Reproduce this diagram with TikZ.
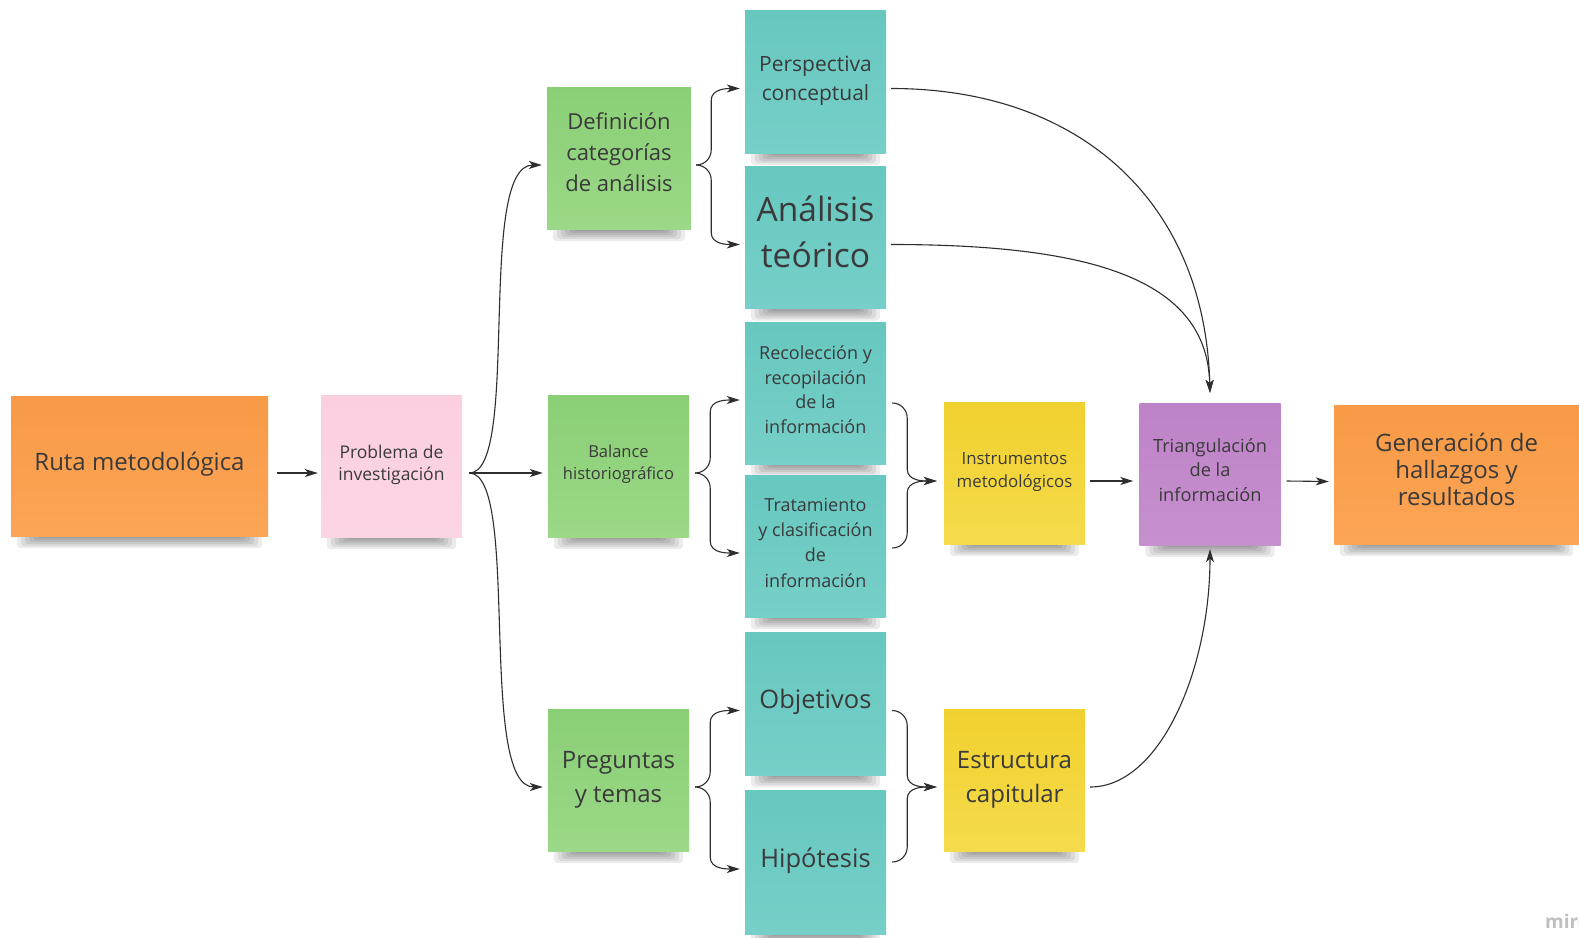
\documentclass[tikz,border=0pt]{standalone}
\usepackage{fontspec}
\setmainfont{Open Sans}
\usetikzlibrary{arrows.meta,calc}
\pgfdeclarelayer{bg}\pgfsetlayers{bg,main}
\definecolor{orngT}{HTML}{F89A46}
\definecolor{orngB}{HTML}{FBA556}
\definecolor{pinkT}{HTML}{FBCFE0}
\definecolor{pinkB}{HTML}{FCD5E4}
\definecolor{grnT}{HTML}{8ACF76}
\definecolor{grnB}{HTML}{9BD887}
\definecolor{tealT}{HTML}{67C8C0}
\definecolor{tealB}{HTML}{76CFC8}
\definecolor{yelT}{HTML}{F1D12E}
\definecolor{yelB}{HTML}{F5DB4C}
\definecolor{purT}{HTML}{BE82C8}
\definecolor{purB}{HTML}{C690CE}
\definecolor{txt}{HTML}{3A3A3A}
\definecolor{lin}{HTML}{2E2E2E}
\newcommand\myfs[2]{\fontsize{#1}{#2}\selectfont}
\newcommand\lift[2]{\raisebox{#1}[\height][\depth]{\begin{tabular}{@{}c@{}}#2\end{tabular}}}
% brace-like connectors: start, end, horizontal run before turning
\newcommand\braceup[3]{\draw[conn] let \p1=(#1), \p2=(#2) in (\p1) to[out=0,in=-90] ({\x1+#3},{\y1+#3}) -- ({\x1+#3},{\y2-12pt}) to[out=90,in=180] (\p2);}
\newcommand\bracedown[3]{\draw[conn] let \p1=(#1), \p2=(#2) in (\p1) to[out=0,in=90] ({\x1+#3},{\y1-#3}) -- ({\x1+#3},{\y2+12pt}) to[out=-90,in=180] (\p2);}
\begin{document}
\begin{tikzpicture}[x=1pt,y=-1pt,
  note/.style={rectangle, inner sep=0pt, align=center, text=txt,
    minimum width=141pt, minimum height=142pt},
  orangenote/.style={note, top color=orngT, bottom color=orngB},
  pinknote/.style={note, top color=pinkT, bottom color=pinkB},
  greennote/.style={note, top color=grnT, bottom color=grnB},
  tealnote/.style={note, top color=tealT, bottom color=tealB},
  yellownote/.style={note, top color=yelT, bottom color=yelB},
  purplenote/.style={note, top color=purT, bottom color=purB},
  shadowpiece/.style={fill=black, opacity=0.075, rounded corners=4pt},
  conn/.style={draw=lin, line width=1.1pt, -{Stealth[length=13pt,width=8pt,inset=3.5pt]}}]
\useasboundingbox (0,0) rectangle (1579,937);

% nodes
\node[orangenote, minimum width=257pt, minimum height=140pt, font=\myfs{24}{30}] (ruta) at (139.5,466) {\lift{2pt}{Ruta metodológica}};
\node[pinknote, font=\myfs{17.5}{22.2}] (prob) at (391.5,466) {\lift{1pt}{Problema de\\investigación}};
\node[greennote, minimum width=144pt, font=\myfs{22}{31.2}] (def) at (619,158) {\lift{3.5pt}{Definición\\categorías\\de análisis}};
\node[greennote, font=\myfs{16.5}{22.2}] (bal) at (618.5,466) {\lift{2pt}{Balance\\historiográfico}};
\node[greennote, font=\myfs{24}{34}] (preg) at (618.5,780) {\lift{1.5pt}{Preguntas\\y temas}};
\node[tealnote, minimum height=143pt, font=\myfs{21}{29.2}] (persp) at (815.5,81.5) {\lift{1pt}{Perspectiva\\conceptual}};
\node[tealnote, font=\myfs{33.5}{46.3}] (anal) at (815.5,237.5) {\lift{2pt}{Análisis\\teórico}};
\node[tealnote, font=\myfs{18}{24.9}] (rec) at (815.5,393) {\lift{1.5pt}{Recolección y\\recopilación\\de la\\información}};
\node[tealnote, font=\myfs{18}{25.3}] (trat) at (815.5,546) {\lift{2pt}{Tratamiento\\y clasificación\\de\\información}};
\node[tealnote, minimum height=143pt, font=\myfs{25.5}{30}] (obj) at (815.5,703.5) {\lift{1pt}{Objetivos}};
\node[tealnote, minimum height=144pt, font=\myfs{25.5}{30}] (hip) at (815.5,862) {\lift{1pt}{Hipótesis}};
\node[yellownote, font=\myfs{16.8}{22.2}] (inst) at (1014.5,473) {\lift{1.5pt}{Instrumentos\\metodológicos}};
\node[yellownote, font=\myfs{24}{34}] (estr) at (1014.5,780) {\lift{1.5pt}{Estructura\\capitular}};
\node[purplenote, font=\myfs{18.2}{24.8}] (tri) at (1210,474) {\lift{2pt}{Triangulación\\de la\\información}};
\node[orangenote, minimum width=245pt, minimum height=139pt, font=\myfs{24}{27.2}] (gen) at (1456.5,474.5) {\lift{1.5pt}{Generación de\\hallazgos y\\resultados}};

% background and soft shadows
\begin{pgfonlayer}{bg}
\fill[white] (0,0) rectangle (1579,937);
\foreach \n in {ruta,prob,def,bal,preg,persp,anal,rec,trat,obj,hip,inst,estr,tri,gen}{
  \foreach \k in {0,1,2,3,4,5}{
    \fill[shadowpiece] ($(\n.south west)+(6+4*\k,-4)$) rectangle ($(\n.south east)+(-6-4*\k,12-2*\k)$);
  }
}
\end{pgfonlayer}

% watermark
\node[anchor=west, text=black!25, font=\myfs{19}{22}\bfseries, inner sep=0pt] (miro) at (1545,921) {miro};

% connectors
\draw[conn] ($(ruta.east)+(9,7)$) -- ($(prob.west)+(-3,7)$);
\draw[conn] ($(prob.east)+(7,7)$) .. controls +(52,0) and +(-66,0) .. ($(def.west)+(-5,7)$);
\draw[conn] ($(prob.east)+(7,7)$) -- ($(bal.west)+(-5,7)$);
\draw[conn] ($(prob.east)+(7,7)$) .. controls +(52,0) and +(-66,0) .. ($(preg.west)+(-5,7)$);

\braceup{$(def.east)+(5,7)$}{$(persp.west)+(-5,7)$}{15pt}
\bracedown{$(def.east)+(5,7)$}{$(anal.west)+(-5,7)$}{15pt}
\braceup{$(bal.east)+(6,7)$}{$(rec.west)+(-5,7)$}{15pt}
\bracedown{$(bal.east)+(6,7)$}{$(trat.west)+(-5,7)$}{15pt}
\braceup{$(preg.east)+(6,7)$}{$(obj.west)+(-5,7)$}{15pt}
\bracedown{$(preg.east)+(6,7)$}{$(hip.west)+(-5,7)$}{15pt}

\bracedown{$(rec.east)+(6,10)$}{$(inst.west)+(-7,8)$}{15pt}
\braceup{$(trat.east)+(6,2)$}{$(inst.west)+(-7,8)$}{15pt}
\bracedown{$(obj.east)+(6,7)$}{$(estr.west)+(-7,7)$}{15pt}
\braceup{$(hip.east)+(6,0)$}{$(estr.west)+(-7,7)$}{15pt}

\draw[conn] ($(inst.east)+(5,8)$) -- ($(tri.west)+(-6,7)$);
\draw[conn] ($(tri.east)+(6,7)$) -- ($(gen.west)+(-5,7)$);

\draw[conn] ($(persp.east)+(5,7)$) .. controls +(190,0) and +(-5,-190) .. ($(tri.north)+(0,-10)$);
\draw[conn] ($(anal.east)+(5,7)$) .. controls +(210,0) and +(-3,-110) .. ($(tri.north)+(0,-10)$);
\draw[conn] ($(estr.east)+(5,7)$) .. controls +(70,0) and +(0,120) .. ($(tri.south)+(0,4)$);
\end{tikzpicture}
\end{document}
